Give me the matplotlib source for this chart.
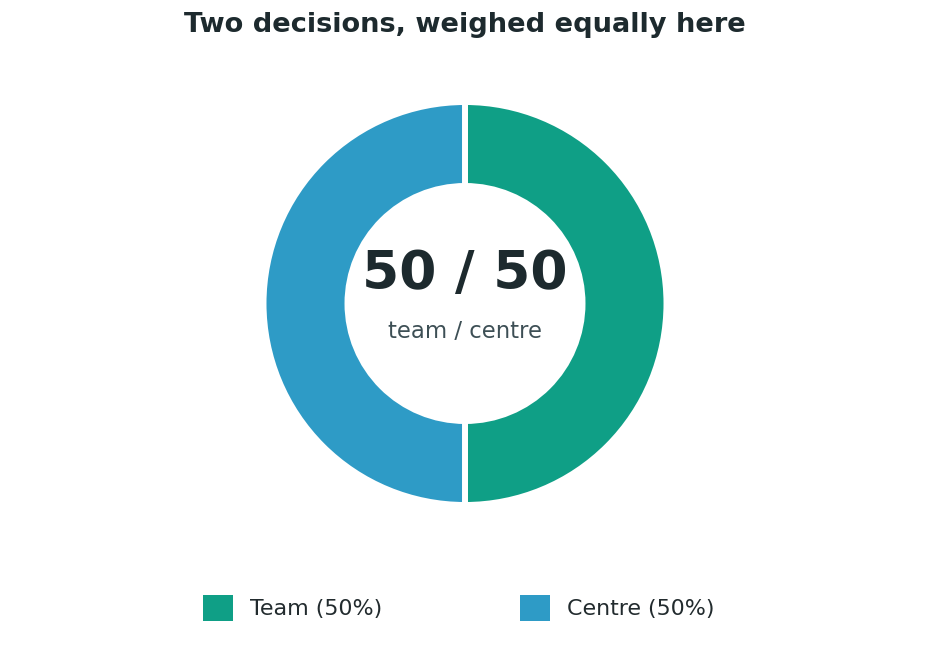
import matplotlib
matplotlib.use("Agg")
import matplotlib.pyplot as plt
from matplotlib.patches import Patch

labels = ["Team", "Centre"]
shares = [50, 50]
colors = ["#0f9f86", "#2e9bc6"]

title = "Two decisions, weighed equally here"
centre_big = "50 / 50"
centre_small = "team / centre"

fig = plt.figure(figsize=(9.3, 6.6), dpi=100)
ax = fig.add_axes([0, 0, 1, 1])

# pixel units: centre (465, 303 from top), outer r ~198, inner ~120, white gap ~6px
wedges, _ = ax.pie(shares, colors=colors, startangle=90, counterclock=False,
                   center=(465, 660 - 303.5), radius=201.5,
                   wedgeprops=dict(width=84, edgecolor="white", linewidth=4.3))
ax.set_xlim(0, 930)
ax.set_ylim(0, 660)
ax.set_aspect("equal")
ax.axis("off")

ax.text(465, 660 - 274, centre_big, ha="center", va="center",
        fontsize=38.5, fontweight="bold", color="#1d2a2e")
ax.text(465, 660 - 331, centre_small, ha="center", va="center",
        fontsize=16.4, color="#3d4f55")

fig.text(0.5, 1 - 25 / 660, title, ha="center", va="center",
         fontsize=19.6, fontweight="bold", color="#1d2a2e")

handles = [Patch(facecolor=c, edgecolor="none") for c in colors]
legend_labels = [f"{l} ({s}%)" for l, s in zip(labels, shares)]
fig.legend(handles, legend_labels, loc="center", ncol=2, frameon=False,
           bbox_to_anchor=(458.5 / 930, 52 / 660), fontsize=15.9,
           handlelength=1.36, handleheight=1.365, handletextpad=0.77,
           columnspacing=6.25, labelcolor="#222b2e")

fig.savefig("out.png", dpi=100)
